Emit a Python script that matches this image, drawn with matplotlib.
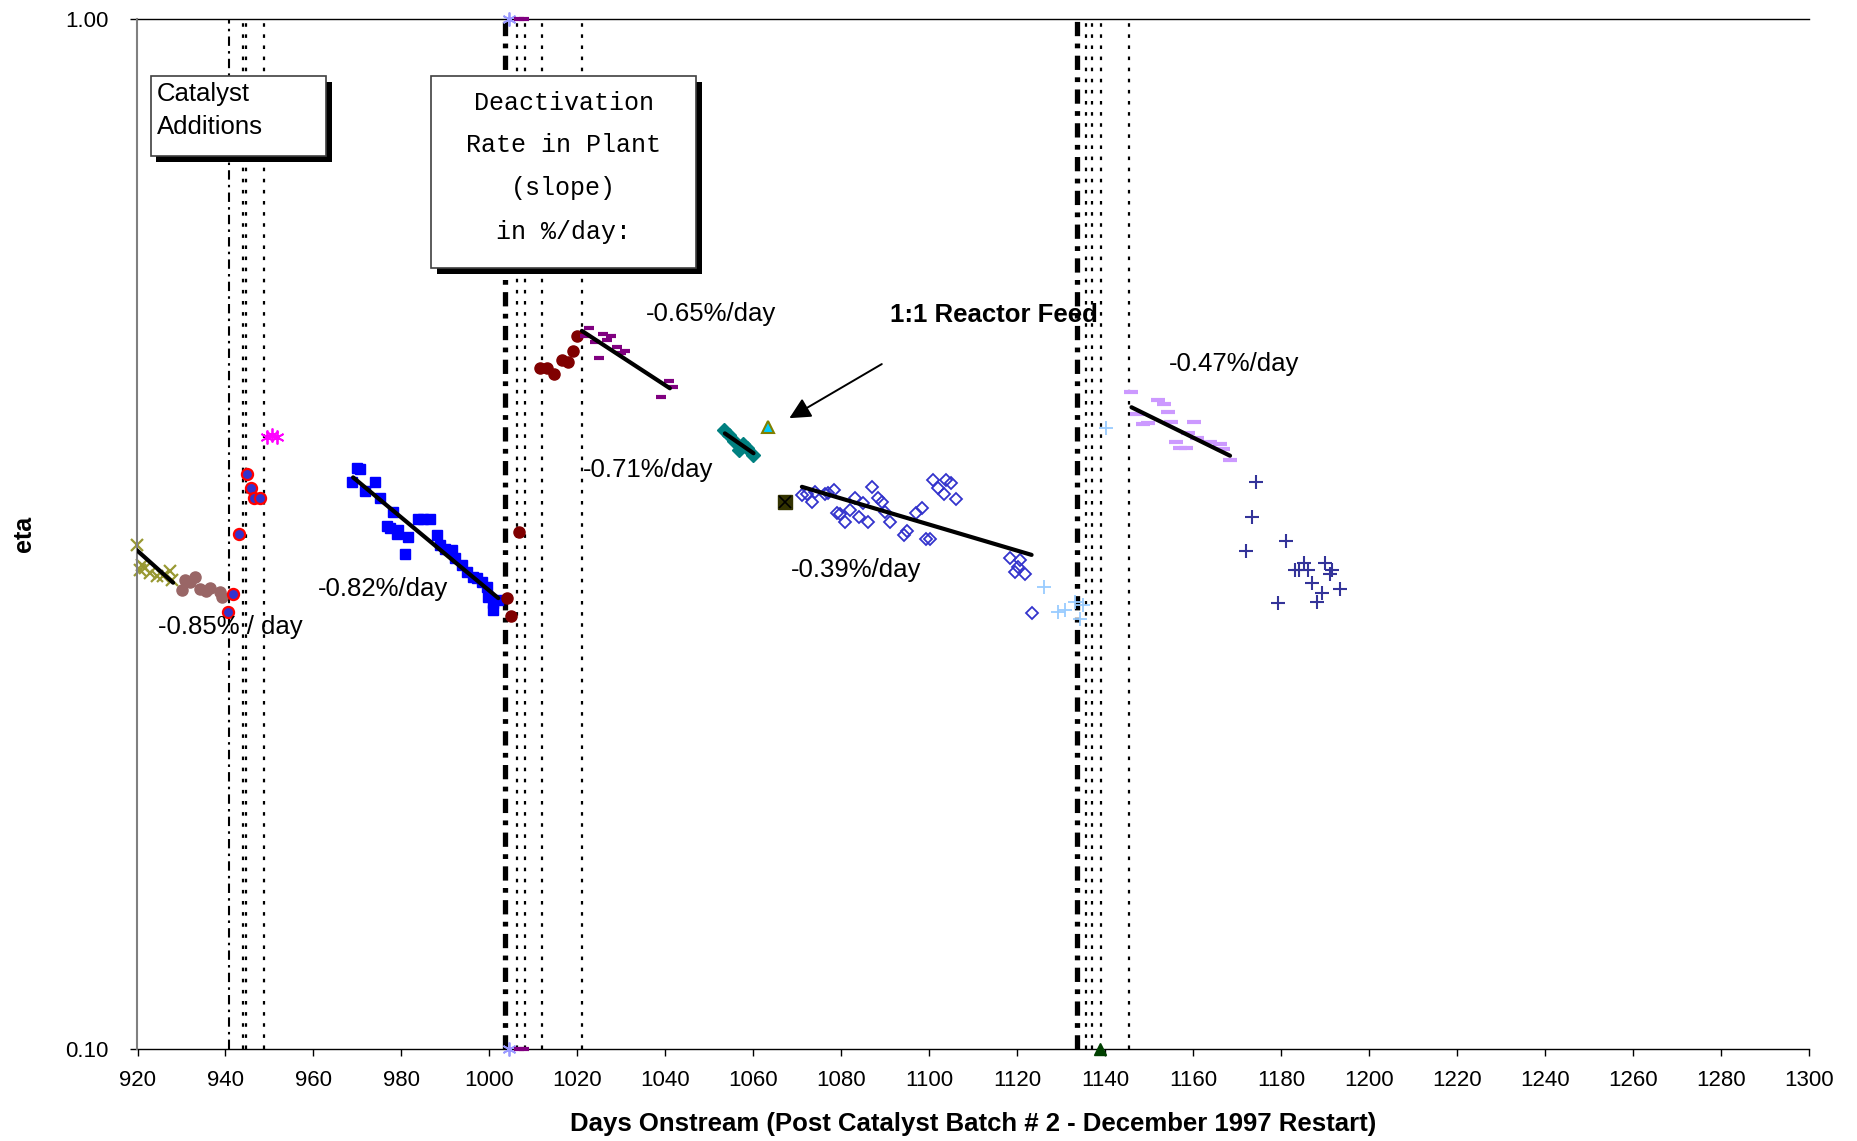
import matplotlib
matplotlib.use("Agg")
import matplotlib.pyplot as plt
from matplotlib.patches import Rectangle
from matplotlib.ticker import NullLocator

plt.rcParams["font.family"] = ["Liberation Sans", "DejaVu Sans"]

# --- data (days onstream, eta) ---
olive_day = [919.8, 920.6, 921.0, 921.7, 922.8, 924.4, 925.9, 927.4, 927.8]
olive_eta = [0.3085, 0.2917, 0.2953, 0.2930, 0.2896, 0.2880, 0.2880, 0.2910, 0.2853]

brown_day = [930.0, 930.8, 931.9, 933.1, 934.2, 935.6, 936.5, 938.8, 939.1]
brown_eta = [0.2790, 0.2853, 0.2840, 0.2870, 0.2795, 0.2785, 0.2800, 0.2780, 0.2749]

ring_day = [940.6, 941.8, 943.0, 944.8, 945.7, 946.5, 947.9]
ring_eta = [0.2658, 0.2765, 0.3162, 0.3616, 0.3505, 0.3427, 0.3427]

star_day = [949.4, 950.6, 951.6]
star_eta = [0.3930, 0.3950, 0.3929]

sq_day = [968.7, 969.8, 970.6, 971.7, 974.0, 975.1, 976.6, 977.5, 978.1, 978.9,
          979.3, 980.8, 981.5, 983.8, 985.0, 986.5, 988.0, 988.8, 990.0, 991.4,
          992.2, 993.7, 994.8, 996.3, 997.2, 998.2, 999.4, 999.7, 1000.9, 1000.9,
          1002.0]
sq_eta = [0.3553, 0.3664, 0.3660, 0.3484, 0.3553, 0.3424, 0.3219, 0.3205, 0.3324, 0.3165,
          0.3190, 0.3022, 0.3144, 0.3267, 0.3270, 0.3270, 0.3155, 0.3084, 0.3060, 0.3051,
          0.2995, 0.2951, 0.2906, 0.2875, 0.2865, 0.2843, 0.2812, 0.2749, 0.2709, 0.2669,
          0.2730]

red_day = [1003.9, 1004.8, 1006.7, 1011.5, 1013.0, 1014.7, 1016.4, 1017.9, 1018.9, 1019.8]
red_eta = [0.2740, 0.2633, 0.3178, 0.4580, 0.4580, 0.4520, 0.4666, 0.4645, 0.4764, 0.4923]

purple_day = [1021.7, 1022.7, 1024.0, 1024.9, 1025.9, 1026.6, 1027.6, 1028.9, 1029.8,
              1030.8, 1039.0, 1040.8, 1041.8]
purple_eta = [0.4923, 0.5009, 0.4856, 0.4684, 0.4942, 0.4880, 0.4923, 0.4807, 0.4735,
              0.4764, 0.4299, 0.4455, 0.4396]

teal_day = [1053.3, 1054.5, 1055.6, 1056.6, 1057.6, 1058.6, 1059.8]
teal_eta = [0.3990, 0.3946, 0.3890, 0.3815, 0.3870, 0.3835, 0.3770]

tri_day = [1063.2]
tri_eta = [0.4019]

box_day = [1067.2]
box_eta = [0.3399]

dia_day = [1071.0, 1072.1, 1073.2, 1074.0, 1076.3, 1077.0, 1078.4, 1078.9, 1079.7, 1080.8,
           1081.9, 1083.1, 1084.0, 1085.0, 1086.1, 1086.9, 1088.2, 1089.1, 1089.9, 1091.0,
           1094.2, 1095.0, 1096.9, 1098.2, 1099.2, 1100.1, 1100.9, 1102.0, 1103.3, 1103.8,
           1104.8, 1106.0, 1118.3, 1119.4, 1120.2, 1120.6, 1121.7, 1123.2]
dia_eta = [0.3449, 0.3460, 0.3400, 0.3475, 0.3460, 0.3465, 0.3488, 0.3316, 0.3310, 0.3250,
           0.3336, 0.3424, 0.3287, 0.3387, 0.3250, 0.3509, 0.3424, 0.3400, 0.3324, 0.3250,
           0.3155, 0.3185, 0.3312, 0.3350, 0.3125, 0.3125, 0.3567, 0.3503, 0.3460, 0.3567,
           0.3541, 0.3417, 0.2995, 0.2905, 0.2935, 0.2983, 0.2895, 0.2649]

lblue_day = [1126.0, 1129.3, 1130.8, 1133.1, 1134.2, 1135.0, 1140.1]
lblue_eta = [0.2807, 0.2658, 0.2668, 0.2718, 0.2613, 0.2698, 0.4010]

lilac_day = [1145.9, 1147.1, 1148.6, 1149.7, 1151.9, 1153.3, 1154.3, 1155.0, 1156.0,
             1156.9, 1158.3, 1158.8, 1160.1, 1160.7, 1163.8, 1166.0, 1166.8, 1168.3]
lilac_eta = [0.4340, 0.4133, 0.4044, 0.4056, 0.4267, 0.4226, 0.4151, 0.4060, 0.3882,
             0.3835, 0.3829, 0.3960, 0.4060, 0.3916, 0.3887, 0.3867, 0.3820, 0.3730]

navy_day = [1171.9, 1173.2, 1174.2, 1179.1, 1181.0, 1183.1, 1184.0, 1185.1, 1186.1,
            1186.9, 1188.1, 1189.1, 1190.0, 1191.0, 1191.4, 1193.3]
navy_eta = [0.3045, 0.3287, 0.3553, 0.2709, 0.3112, 0.2921, 0.2921, 0.2962, 0.2917,
            0.2833, 0.2718, 0.2773, 0.2962, 0.2895, 0.2921, 0.2795]

# points sitting on the axis limits
edge_star_day = [1004.5, 1004.5]
edge_star_eta = [1.0, 0.1]
edge_dash_day = [1006.8, 1007.8, 1006.8, 1007.8]
edge_dash_eta = [1.0, 1.0, 0.1, 0.1]
edge_tri_day = [1138.7]
edge_tri_eta = [0.1]

# regression lines (start, end)
fits = [
    ([919.8, 928.1], [0.3051, 0.2836]),
    ([969.0, 1002.0], [0.3589, 0.2740]),
    ([1021.0, 1041.0], [0.4980, 0.4380]),
    ([1053.5, 1060.0], [0.3960, 0.3788]),
    ([1071.0, 1123.2], [0.3514, 0.3018]),
    ([1145.9, 1168.3], [0.4198, 0.3767]),
]

thin_dashdot = [940.8]
dotted = [944.0, 944.7, 948.8, 1006.2, 1008.1, 1012.0, 1021.1,
          1135.6, 1137.0, 1139.0, 1145.3]
thick_dashdot = [1003.5, 1133.5]

rate_labels = [
    ("-0.85% / day", 924.7, 0.257),
    ("-0.82%/day", 961.1, 0.2795),
    ("-0.65%/day", 1035.5, 0.517),
    ("-0.71%/day", 1021.3, 0.3645),
    ("-0.39%/day", 1068.4, 0.2917),
    ("-0.47%/day", 1154.3, 0.4627),
]

W, H = 1858, 1141
fig = plt.figure(figsize=(W / 100, H / 100), dpi=100)
ax = fig.add_axes([137.5 / W, 1 - 1049 / H, 1672 / W, 1030 / H])
ax.set_yscale("log")

for x in thin_dashdot:
    ax.axvline(x, color="black", lw=1.5, dashes=(4.5, 2.5, 1.2, 2.5), zorder=1)
for x in dotted:
    ax.axvline(x, color="black", lw=1.6, dashes=(1.6, 3.4), zorder=1)
for x in thick_dashdot:
    ax.axvline(x, color="black", lw=3.8, dashes=(2.7, 1.4, 0.9, 1.4),
               solid_capstyle="butt", dash_capstyle="butt", zorder=1)

ax.plot(olive_day, olive_eta, ls="none", marker="x", ms=9, mew=1.6, color="#999933",
        clip_on=False)
ax.plot(brown_day, brown_eta, ls="none", marker="o", ms=8, color="#996666", mec="#996666")
ax.plot(ring_day, ring_eta, ls="none", marker="o", ms=8, mfc="#3333CC", mec="#FF0000", mew=1.6)
ax.plot(star_day, star_eta, ls="none", marker=(6, 2, 0), ms=10, mew=1.3, color="#FF00FF")
ax.plot(sq_day, sq_eta, ls="none", marker="s", ms=7.5, color="#0000FF")
ax.plot(red_day, red_eta, ls="none", marker="o", ms=8, color="#800000")
ax.plot(purple_day, purple_eta, ls="none", marker="_", ms=6.5, mew=3, color="#800080")
ax.plot(teal_day, teal_eta, ls="none", marker="D", ms=7, color="#008080")
ax.plot(tri_day, tri_eta, ls="none", marker="^", ms=8, mfc="#00CCFF", mec="#808000", mew=1.5)
ax.plot(box_day, box_eta, ls="none", marker="s", ms=10, mfc="#333300", mec="#333300")
ax.plot(box_day, box_eta, ls="none", marker="x", ms=8, mew=1.2, color="black")
ax.plot(dia_day, dia_eta, ls="none", marker="D", ms=6.5, mfc="none", mec="#3333CC", mew=1.3)
ax.plot(lblue_day, lblue_eta, ls="none", marker="+", ms=10, mew=1.3, color="#99CCFF")
ax.plot(lilac_day, lilac_eta, ls="none", marker="_", ms=9.5, mew=3, color="#CC99FF")
ax.plot(navy_day, navy_eta, ls="none", marker="+", ms=10, mew=1.5, color="#333399")

ax.plot(edge_star_day, edge_star_eta, ls="none", marker=(6, 2, 0), ms=10, mew=1.3,
        color="#9999FF", clip_on=False, zorder=4)
ax.plot(edge_dash_day, edge_dash_eta, ls="none", marker="_", ms=6.5, mew=3,
        color="#800080", clip_on=False, zorder=4)
ax.plot(edge_tri_day, edge_tri_eta, ls="none", marker="^", ms=9, color="#004000",
        clip_on=False, zorder=4)

for fx, fy in fits:
    ax.plot(fx, fy, color="black", lw=3, solid_capstyle="round", zorder=3)

for txt, x, y in rate_labels:
    ax.text(x, y, txt, fontsize=18.5, ha="left", va="center", zorder=6)

ax.text(1091.0, 0.516, "1:1 Reactor Feed", fontsize=18.5, fontweight="bold",
        ha="left", va="center", zorder=6)
ax.annotate("", xy=(1067.6, 0.4084), xytext=(1089.7, 0.4638),
            arrowprops=dict(arrowstyle="-|>", color="black", lw=1.4, mutation_scale=32))

ax.set_xlim(920, 1300)
ax.set_ylim(0.1, 1.0)
ax.set_xticks(range(920, 1301, 20))
ax.set_yticks([0.1, 1.0])
ax.set_yticklabels(["0.10", "1.00"])
ax.yaxis.set_minor_locator(NullLocator())
ax.tick_params(axis="x", labelsize=16, direction="out", length=5, width=1, pad=10)
ax.tick_params(axis="y", labelsize=16, direction="out", length=5, width=1, pad=16)

ax.spines["right"].set_visible(False)
ax.spines["top"].set_color("black")
ax.spines["top"].set_linewidth(1.0)
ax.spines["left"].set_color("#808080")
ax.spines["left"].set_linewidth(1.5)
ax.spines["bottom"].set_linewidth(1.0)

ax.set_xlabel("Days Onstream (Post Catalyst Batch # 2 - December 1997 Restart)",
              fontsize=18.5, fontweight="bold", labelpad=15)
ax.set_ylabel("eta", fontsize=18, fontweight="bold")
ax.yaxis.set_label_coords(-0.061, 0.5)


def shadow_box(x0, y0, x1, y1, off=6):
    # box given in pixels from top-left of the figure
    fig.add_artist(Rectangle(((x0 + off) / W, 1 - (y1 + off) / H), (x1 - x0) / W, (y1 - y0) / H,
                             transform=fig.transFigure, facecolor="black",
                             edgecolor="none", zorder=5))
    fig.add_artist(Rectangle((x0 / W, 1 - y1 / H), (x1 - x0) / W, (y1 - y0) / H,
                             transform=fig.transFigure, facecolor="white",
                             edgecolor="#404040", lw=1.2, zorder=6))


shadow_box(150.5, 76, 326, 156)
fig.text(157 / W, 1 - 82 / H, "Catalyst\nAdditions", fontsize=18.5, ha="left", va="top",
         linespacing=1.45, zorder=7)

shadow_box(431, 76, 696, 268)
fig.text(563.5 / W, 1 - 167 / H, "Deactivation\nRate in Plant\n(slope)\nin %/day:",
         fontsize=18, family=["Liberation Mono", "DejaVu Sans Mono"], ha="center",
         va="center", linespacing=2.0, zorder=7)

fig.savefig("out.png", dpi=100)
